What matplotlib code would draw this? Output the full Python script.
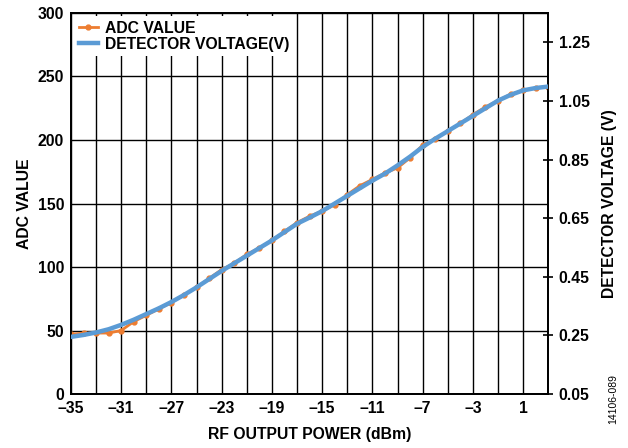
import numpy as np
import matplotlib.pyplot as plt

plt.rcParams['font.family'] = ['Liberation Sans', 'DejaVu Sans']
plt.rcParams['font.weight'] = 'bold'

# RF output power (dBm)
power = [-35, -34, -33, -32, -31, -30, -29, -28, -27, -26, -25, -24, -23, -22, -21,
         -20, -19, -18, -17, -16, -15, -14, -13, -12, -11, -10, -9, -8, -7, -6,
         -5, -4, -3, -2, -1, 0, 1, 2, 3]

adc_value = [47, 48, 48, 48, 50, 57, 62, 67, 72, 78, 84, 91, 98, 103, 110,
             115, 121, 128, 135, 140, 144, 149, 157, 164, 169, 174, 178, 186, 196, 201,
             207, 213, 220, 226, 231, 236, 239, 241, 242]

detector_v = [0.245, 0.2515, 0.260, 0.271, 0.286, 0.3035, 0.323, 0.3425, 0.364, 0.388,
              0.414, 0.442, 0.470, 0.496, 0.522, 0.548, 0.574, 0.6025, 0.631, 0.652,
              0.674, 0.700, 0.726, 0.752, 0.778, 0.802, 0.830, 0.860, 0.893, 0.921,
              0.947, 0.973, 0.999, 1.025, 1.051, 1.0705, 1.086, 1.094, 1.099]

x_ticks = [-35, -31, -27, -23, -19, -15, -11, -7, -3, 1]
left_ticks = [0, 50, 100, 150, 200, 250, 300]
right_ticks = [0.05, 0.25, 0.45, 0.65, 0.85, 1.05, 1.25]

orange = '#ED7D31'
blue = '#5B9BD5'
fs = 11.3

fig = plt.figure(figsize=(6.28, 4.48), dpi=100)
ax = fig.add_axes([0.113, 0.1205, 0.76, 0.8505])

ax.set_xlim(-35, 3)
ax.set_ylim(0, 300)
ax.set_xticks(np.arange(-35, 4, 2), minor=True)
ax.set_xticks(x_ticks)
ax.set_xticklabels(['–' + str(abs(t)) if t < 0 else str(t) for t in x_ticks])
ax.set_yticks(left_ticks)
ax.grid(True, which='both', axis='x', color='black', linewidth=1)
ax.grid(True, which='major', axis='y', color='black', linewidth=1)
ax.tick_params(which='both', length=0, labelsize=fs, pad=5)
for s in ax.spines.values():
    s.set_linewidth(1.3)

l1, = ax.plot(power, adc_value, color=orange, linewidth=2, marker='o', markersize=3.5,
              label='ADC VALUE', zorder=3)

ax2 = ax.twinx()
ax2.set_ylim(0.05, 1.35)
ax2.set_yticks(right_ticks)
ax2.set_yticklabels(['%.2f' % t for t in right_ticks])
ax2.tick_params(axis='y', direction='inout', length=7, width=1.2, labelsize=fs, pad=4)
l2, = ax2.plot(power, detector_v, color=blue, linewidth=3.2, label='DETECTOR VOLTAGE(V)', zorder=4)
for s in ax2.spines.values():
    s.set_linewidth(1.3)

leg = ax2.legend(handles=[l1, l2], loc='upper left', bbox_to_anchor=(0.0, 1.0),
                 frameon=True, fancybox=False, edgecolor='none', facecolor='white',
                 framealpha=1, fontsize=fs, handlelength=1.2, handletextpad=0.5,
                 labelspacing=0.05, borderpad=0.3, borderaxespad=0.2)
for t in leg.get_texts():
    t.set_fontweight('bold')

ax.set_xlabel('RF OUTPUT POWER (dBm)', fontsize=fs, fontweight='bold', labelpad=8)
ax.set_ylabel('ADC VALUE', fontsize=fs, fontweight='bold', labelpad=4)
ax2.set_ylabel('DETECTOR VOLTAGE (V)', fontsize=fs, fontweight='bold', labelpad=9)

fig.text(0.977, 0.11, '14106-089', rotation=90, fontsize=7.5, fontweight='normal',
         ha='center', va='center')

fig.savefig('out.png', dpi=100)
